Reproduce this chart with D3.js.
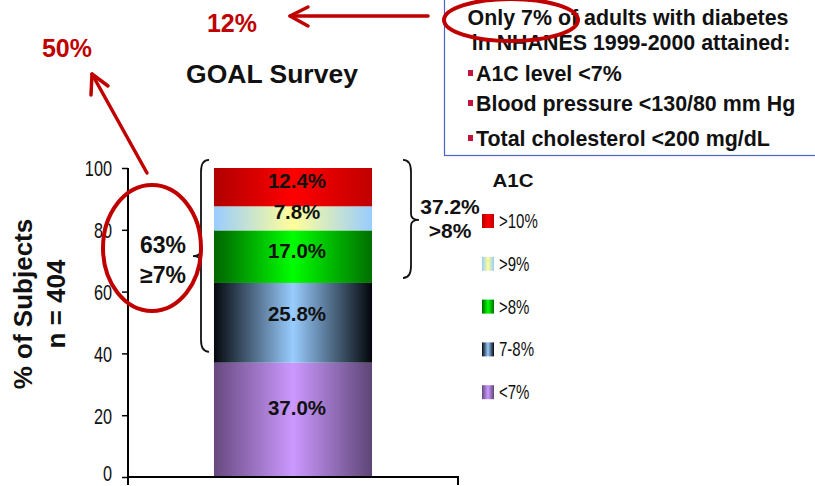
<!DOCTYPE html>
<html>
<head>
<meta charset="utf-8">
<script src="https://cdn.jsdelivr.net/npm/d3@7"></script>
<style>
  html, body { margin: 0; padding: 0; background: #fff; }
  svg { display: block; }
  .bold { font-family: "Liberation Sans", Arial, sans-serif; font-weight: bold; }
  .plain { font-family: "Liberation Sans", Arial, sans-serif; font-weight: normal; }
</style>
</head>
<body>
<svg id="chart" width="815" height="486"></svg>
<script>
// A1C categories, stacked from the bottom up
const categories = ["<7%", "7-8%", ">8%", ">9%", ">10%"];
const values = [37.0, 25.8, 17.0, 7.8, 12.4];
const valueLabels = ["37.0%", "25.8%", "17.0%", "7.8%", "12.4%"];
const yTicks = [0, 20, 40, 60, 80, 100];
const barGroup = ["GOAL"];

// horizontal shading for each band: [edge, centre, edge]
const shades = {
  "<7%":  ["#67497f", "#cc99ff", "#5e4576"],
  "7-8%": ["#05080d", "#99ccff", "#03060a"],
  ">8%":  ["#006400", "#00ff00", "#006f00"],
  ">9%":  ["#99ccff", "#ffff99", "#99ccff"],
  ">10%": ["#b00000", "#ff0000", "#c00000"]
};

const svg = d3.select("#chart");
const red = "#c00000";
const narrow = 0.74; // horizontal squeeze for the condensed axis lettering

const y = d3.scaleLinear().domain([0, 100]).range([477, 168]);
const x = d3.scaleBand().domain(barGroup).range([128, 458]).paddingInner(0).paddingOuter(0.544);

// gradients
const defs = svg.append("defs");
categories.forEach((c, i) => {
  const g = defs.append("linearGradient").attr("id", "grad" + i)
    .attr("x1", "0%").attr("x2", "100%").attr("y1", "0%").attr("y2", "0%");
  g.append("stop").attr("offset", "0%").attr("stop-color", shades[c][0]);
  g.append("stop").attr("offset", "50%").attr("stop-color", shades[c][1]);
  g.append("stop").attr("offset", "100%").attr("stop-color", shades[c][2]);
});

// stacked segments
const stacked = [];
let acc = 0;
values.forEach((v, i) => { stacked.push({ cat: categories[i], v, y0: acc, y1: acc + v, label: valueLabels[i], i }); acc += v; });

const bar = svg.append("g");
bar.selectAll("rect").data(stacked).join("rect")
  .attr("x", x("GOAL"))
  .attr("width", x.bandwidth())
  .attr("y", d => y(d.y1))
  .attr("height", d => y(d.y0) - y(d.y1))
  .attr("fill", d => `url(#grad${d.i})`);

bar.selectAll("text").data(stacked).join("text")
  .attr("class", "bold")
  .attr("x", x("GOAL") + x.bandwidth() / 2 + 4)
  .attr("y", d => (y(d.y0) + y(d.y1)) / 2 + 1 - Math.max(0, d.v - 17) * 0.3)
  .attr("text-anchor", "middle")
  .attr("font-size", 20.5)
  .attr("fill", "#111")
  .text(d => d.label);

// y axis
const yAxis = svg.append("g").attr("transform", "translate(128,0)")
  .call(d3.axisLeft(y).tickValues(yTicks).tickSize(6).tickPadding(10).tickFormat(d3.format("d")));
yAxis.select(".domain").attr("stroke", "#000").attr("stroke-width", 2).attr("d", `M0,${y(100)}V${y(0) + 5}`);
yAxis.selectAll(".tick line").attr("stroke", "#000").attr("stroke-width", 1.5);
yAxis.selectAll(".tick text")
  .attr("class", "plain").attr("font-size", 22).attr("fill", "#111")
  .attr("x", 0)
  .attr("dy", d => d === 0 ? "0.16em" : "0.36em")
  .attr("transform", `translate(-16,0) scale(${narrow},1)`);

// x axis baseline
const xAxis = svg.append("g").attr("transform", `translate(0,${y(0)})`)
  .call(d3.axisBottom(x).tickSize(0).tickFormat(""));
xAxis.select(".domain").attr("stroke", "#000").attr("stroke-width", 2)
  .attr("d", `M128,0H458V8M128,0V8`);

// axis title
const yt = svg.append("text").attr("class", "bold").attr("font-size", 26)
  .attr("text-anchor", "middle").attr("fill", "#111")
  .attr("transform", "translate(32,304) rotate(-90)");
yt.append("tspan").attr("x", 0).attr("y", 0).text("% of Subjects");
yt.append("tspan").attr("x", 0).attr("y", 33).text("n = 404");

// chart title
svg.append("text").attr("class", "bold").attr("font-size", 26.5)
  .attr("x", 272).attr("y", 83).attr("text-anchor", "middle").attr("fill", "#111")
  .text("GOAL Survey");

// braces
function brace(xEdge, xMid, xTip, yTop, yTip, yBot) {
  const r = 6;
  return `M${xEdge},${yTop}Q${xMid},${yTop} ${xMid},${yTop + r * 2}` +
    `V${yTip - r}Q${xMid},${yTip} ${xTip},${yTip}` +
    `Q${xMid},${yTip} ${xMid},${yTip + r}` +
    `V${yBot - r * 2}Q${xMid},${yBot} ${xEdge},${yBot}`;
}
svg.append("path").attr("d", brace(209, 201, 193, y(102.6), y(71.5), y(40.5)))
  .attr("fill", "none").attr("stroke", "#111").attr("stroke-width", 1.8);
svg.append("path").attr("d", brace(403, 411, 419, y(102.6), y(83.2), y(64.4)))
  .attr("fill", "none").attr("stroke", "#111").attr("stroke-width", 1.8);

// brace labels
const gt = svg.append("text").attr("class", "bold").attr("font-size", 23)
  .attr("text-anchor", "middle").attr("fill", "#111");
gt.append("tspan").attr("x", 163).attr("y", 253).text("63%");
gt.append("tspan").attr("x", 163).attr("y", 283).text("≥7%");
const gt8 = svg.append("text").attr("class", "bold").attr("font-size", 21)
  .attr("text-anchor", "middle").attr("fill", "#111");
gt8.append("tspan").attr("x", 450).attr("y", 214).text("37.2%");
gt8.append("tspan").attr("x", 450).attr("y", 238).text(">8%");

// legend
svg.append("text").attr("class", "bold").attr("font-size", 18)
  .attr("x", 513).attr("y", 187).attr("text-anchor", "middle").attr("fill", "#111")
  .attr("textLength", 41).attr("lengthAdjust", "spacingAndGlyphs").text("A1C");
const legendOrder = categories.slice().reverse();
const leg = svg.append("g").selectAll("g").data(legendOrder).join("g")
  .attr("transform", (d, i) => `translate(482,${221 + i * 42.8})`);
leg.append("rect").attr("x", 0).attr("y", -7).attr("width", 12).attr("height", 14)
  .attr("fill", d => `url(#grad${categories.indexOf(d)})`);
leg.append("text").attr("class", "plain").attr("font-size", 19.5).attr("fill", "#111")
  .attr("transform", `translate(17,7) scale(0.77,1)`).text(d => d);

// NHANES callout box
svg.append("rect").attr("x", 444.5).attr("y", -5).attr("width", 400).attr("height", 160.5)
  .attr("fill", "#fff").attr("stroke", "#4a64c4").attr("stroke-width", 1.2);
const boxText = svg.append("g").attr("class", "bold").attr("font-size", 21.4).attr("fill", "#111");
boxText.append("text").attr("x", 628).attr("y", 25).attr("text-anchor", "middle").text("Only 7% of adults with diabetes");
boxText.append("text").attr("x", 631).attr("y", 50).attr("text-anchor", "middle").text("in NHANES 1999-2000 attained:");
const bullets = ["A1C level <7%", "Blood pressure <130/80 mm Hg", "Total cholesterol <200 mg/dL"];
const bulletY = [81, 111, 146];
bullets.forEach((t, i) => {
  boxText.append("rect").attr("x", 468).attr("y", bulletY[i] - 11).attr("width", 5).attr("height", 6).attr("fill", "#c0143c");
  boxText.append("text").attr("x", 476).attr("y", bulletY[i]).text(t);
});

// red highlight ellipses and arrows
svg.append("ellipse").attr("cx", 152).attr("cy", 248).attr("rx", 49).attr("ry", 63)
  .attr("fill", "none").attr("stroke", red).attr("stroke-width", 4);
svg.append("ellipse").attr("cx", 511).attr("cy", 20).attr("rx", 67).attr("ry", 21)
  .attr("fill", "none").attr("stroke", red).attr("stroke-width", 4);

const arrows = svg.append("g").attr("fill", "none").attr("stroke", red).attr("stroke-width", 3.5)
  .attr("stroke-linecap", "round").attr("stroke-linejoin", "round");
arrows.append("path").attr("d", "M147,173L92,74");
arrows.append("path").attr("d", "M108,86L92,74L91,95");
arrows.append("path").attr("d", "M428,16L290,16");
arrows.append("path").attr("d", "M308,7L290,16L308,26");

svg.append("text").attr("class", "bold").attr("font-size", 25).attr("fill", red)
  .attr("x", 67).attr("y", 57).attr("text-anchor", "middle").text("50%");
svg.append("text").attr("class", "bold").attr("font-size", 25).attr("fill", red)
  .attr("x", 232).attr("y", 32).attr("text-anchor", "middle").text("12%");
</script>
</body>
</html>
